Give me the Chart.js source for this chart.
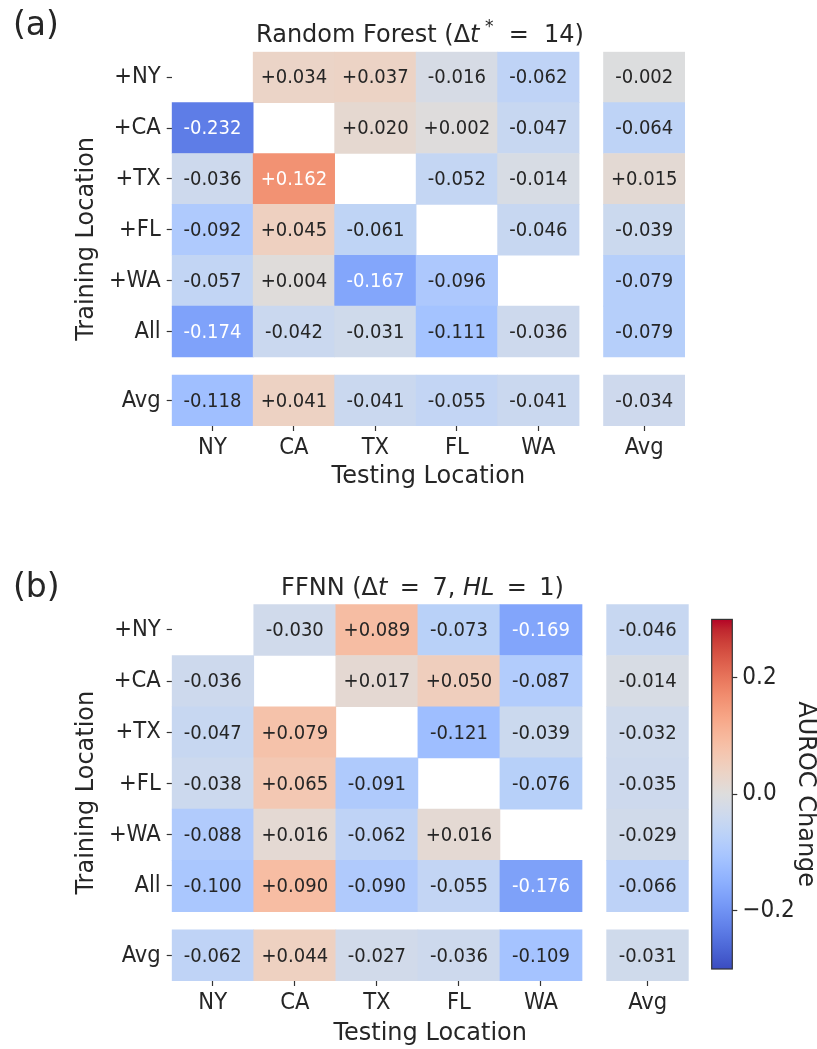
<!DOCTYPE html>
<html>
<head>
<meta charset="utf-8">
<script src="https://cdn.jsdelivr.net/npm/chart.js@4.4.1/dist/chart.umd.min.js"></script>
<style>
  body { margin: 0; background: #fff; }
  #wrap { position: relative; width: 817px; height: 1049px; }
  canvas { position: absolute; }
</style>
</head>
<body>
<div id="wrap">
  <canvas id="panel-a" width="817" height="500" style="left:0;top:0"></canvas>
  <canvas id="panel-b" width="817" height="549" style="left:0;top:500px"></canvas>
  <canvas id="cbar" width="127" height="400" style="left:690px;top:600px"></canvas>
</div>
<script>
const testLocs = ['NY', 'CA', 'TX', 'FL', 'WA'];
const trainLocs = ['+NY', '+CA', '+TX', '+FL', '+WA', 'All'];
const avgLabel = 'Avg';

// Random Forest (dt* = 14): AUROC change, rows = training, cols = testing
const rfChange = [
  [null, 0.034, 0.037, -0.016, -0.062],
  [-0.232, null, 0.020, 0.002, -0.047],
  [-0.036, 0.162, null, -0.052, -0.014],
  [-0.092, 0.045, -0.061, null, -0.046],
  [-0.057, 0.004, -0.167, -0.096, null],
  [-0.174, -0.042, -0.031, -0.111, -0.036]
];
const rfRowAvg = [-0.002, -0.064, 0.015, -0.039, -0.079, -0.079];
const rfColAvg = [-0.118, 0.041, -0.041, -0.055, -0.041];
const rfAllAvg = -0.034;

// FFNN (dt = 7, HL = 1)
const nnChange = [
  [null, -0.030, 0.089, -0.073, -0.169],
  [-0.036, null, 0.017, 0.050, -0.087],
  [-0.047, 0.079, null, -0.121, -0.039],
  [-0.038, 0.065, -0.091, null, -0.076],
  [-0.088, 0.016, -0.062, 0.016, null],
  [-0.100, 0.090, -0.090, -0.055, -0.176]
];
const nnRowAvg = [-0.046, -0.014, -0.032, -0.035, -0.029, -0.066];
const nnColAvg = [-0.062, 0.044, -0.027, -0.036, -0.109];
const nnAllAvg = -0.031;

const cbTicks = [-0.2, 0, 0.2];
const V_MIN = -0.3, V_MAX = 0.3;

const FONT_C = "'DejaVu Sans Condensed', 'DejaVu Sans', sans-serif";
const FONT_R = "'DejaVu Sans', sans-serif";
const INK = '#262626';
const COL_GAP = 0.3;   // space before the Avg column, in cell widths
const ROW_GAP = 0.355; // space before the Avg row, in cell heights

Chart.defaults.font.family = FONT_C;
Chart.defaults.color = INK;

// coolwarm colormap samples
const COOLWARM = [
  [59, 76, 192], [68, 90, 204], [77, 104, 215], [87, 117, 225], [98, 130, 234],
  [108, 142, 241], [119, 154, 247], [130, 165, 251], [141, 176, 254], [152, 185, 255],
  [163, 194, 255], [174, 201, 253], [184, 208, 249], [194, 213, 244], [204, 217, 238],
  [213, 219, 230], [221, 221, 221], [229, 216, 209], [236, 211, 197], [241, 204, 185],
  [245, 196, 173], [247, 187, 160], [247, 177, 148], [247, 166, 135], [244, 154, 123],
  [241, 141, 111], [236, 127, 99], [229, 112, 88], [222, 96, 77], [213, 80, 66],
  [203, 62, 56], [192, 40, 47], [180, 4, 38]
];

function coolwarm(v) {
  let t = (v - V_MIN) / (V_MAX - V_MIN);
  t = Math.min(1, Math.max(0, t)) * (COOLWARM.length - 1);
  const i = Math.min(Math.floor(t), COOLWARM.length - 2);
  const f = t - i;
  return COOLWARM[i].map((c, k) => c + (COOLWARM[i + 1][k] - c) * f);
}
const rgb = c => `rgb(${c.map(Math.round).join(',')})`;

function textColor(c) {
  const lin = c.map(x => {
    x /= 255;
    return x <= 0.03928 ? x / 12.92 : Math.pow((x + 0.055) / 1.055, 2.4);
  });
  const lum = 0.2126 * lin[0] + 0.7152 * lin[1] + 0.0722 * lin[2];
  return lum > 0.408 ? INK : '#ffffff';
}

const fmtCell = v => (v > 0 ? '+' : '') + v.toFixed(3);
const fmtBar = v => Math.abs(v) < 1e-9 ? '0.0' : (v < 0 ? '\u2212' : '') + Math.abs(v).toFixed(1);

const AVG_X = testLocs.length + COL_GAP;
const AVG_Y = trainLocs.length + ROW_GAP;
const colCenters = testLocs.map((_, c) => c + 0.5).concat([AVG_X + 0.5]);
const colLabels = testLocs.concat([avgLabel]);
const rowCenters = trainLocs.map((_, r) => r + 0.5).concat([AVG_Y + 0.5]);
const rowLabels = trainLocs.concat([avgLabel]);

function buildCells(values, rowAvg, colAvg, allAvg) {
  const cells = [];
  values.forEach((row, r) => row.forEach((v, c) => {
    if (v !== null) cells.push({ x: c + 0.5, y: [r, r + 1], v });
  }));
  rowAvg.forEach((v, r) => cells.push({ x: AVG_X + 0.5, y: [r, r + 1], v }));
  colAvg.forEach((v, c) => cells.push({ x: c + 0.5, y: [AVG_Y, AVG_Y + 1], v }));
  cells.push({ x: AVG_X + 0.5, y: [AVG_Y, AVG_Y + 1], v: allAvg });
  return cells;
}

// writes each cell's value in its middle
const cellLabels = {
  id: 'cellLabels',
  afterDatasetsDraw(chart) {
    const ctx = chart.ctx;
    const ds = chart.data.datasets[0];
    ctx.save();
    ctx.font = `20px ${FONT_C}`;
    ctx.textAlign = 'center';
    ctx.textBaseline = 'middle';
    chart.getDatasetMeta(0).data.forEach((bar, i) => {
      const { x, y, base } = bar.getProps(['x', 'y', 'base'], true);
      const v = ds.data[i].v;
      ctx.fillStyle = textColor(coolwarm(v));
      ctx.fillText(fmtCell(v), x, (y + base) / 2 + 1);
    });
    ctx.restore();
  }
};

function panelTitle(tag, segments, cx, baseline) {
  return {
    id: 'panelTitle',
    afterDraw(chart) {
      const ctx = chart.ctx;
      ctx.save();
      ctx.fillStyle = INK;
      ctx.textAlign = 'left';
      ctx.textBaseline = 'alphabetic';
      ctx.font = `33px ${FONT_R}`;
      ctx.fillText(tag.text, tag.x, tag.y);
      const fontFor = s => `${s.italic ? 'italic ' : ''}${s.sup ? 17 : 24}px ${FONT_R}`;
      let total = 0;
      segments.forEach(s => { ctx.font = fontFor(s); total += ctx.measureText(s.text).width; });
      let x = cx - total / 2;
      segments.forEach(s => {
        ctx.font = fontFor(s);
        ctx.fillText(s.text, x, baseline - (s.sup ? 10 : 0));
        x += ctx.measureText(s.text).width;
      });
      ctx.restore();
    }
  };
}

function heatmapPanel(id, cfg) {
  const canvas = document.getElementById(id);
  const W = canvas.width, H = canvas.height;
  const cells = buildCells(cfg.values, cfg.rowAvg, cfg.colAvg, cfg.allAvg);
  return new Chart(canvas, {
    type: 'bar',
    data: {
      datasets: [{
        data: cells,
        backgroundColor: cells.map(c => rgb(coolwarm(c.v))),
        borderWidth: 0,
        barPercentage: 1,
        categoryPercentage: 1
      }]
    },
    options: {
      responsive: false,
      animation: false,
      layout: { padding: { left: 0, top: cfg.area.top, right: W - cfg.area.right, bottom: 0 } },
      plugins: { legend: { display: false }, tooltip: { enabled: false } },
      scales: {
        x: {
          type: 'linear',
          offset: false,
          min: 0,
          max: AVG_X + 1,
          afterBuildTicks: s => { s.ticks = colCenters.map(value => ({ value })); },
          afterFit: s => { s.height = H - cfg.area.bottom; },
          ticks: {
            callback: (v, i) => colLabels[i],
            font: { size: 23.5 },
            color: INK,
            padding: 3,
            maxRotation: 0,
            autoSkip: false
          },
          grid: { offset: false, drawOnChartArea: false, tickLength: 5, tickWidth: 1.2, tickColor: '#333' },
          border: { display: false },
          title: {
            display: true,
            text: 'Testing Location',
            font: { family: FONT_R, size: 24, lineHeight: 1 },
            color: INK,
            padding: { top: 0, bottom: cfg.xTitlePad }
          }
        },
        y: {
          type: 'linear',
          reverse: true,
          min: 0,
          max: AVG_Y + 1,
          afterBuildTicks: s => { s.ticks = rowCenters.map(value => ({ value })); },
          afterFit: s => { s.width = cfg.area.left; },
          ticks: {
            callback: (v, i) => rowLabels[i],
            font: { size: 23.5 },
            color: INK,
            padding: 6,
            autoSkip: false
          },
          grid: { drawOnChartArea: false, tickLength: 5, tickWidth: 1.2, tickColor: '#333' },
          border: { display: false },
          title: {
            display: true,
            text: 'Training Location',
            font: { family: FONT_R, size: 24, lineHeight: 1 },
            color: INK,
            padding: { top: 75, bottom: 0 }
          }
        }
      }
    },
    plugins: [cellLabels, panelTitle(cfg.tag, cfg.title, cfg.titleX, cfg.titleY)]
  });
}

heatmapPanel('panel-a', {
  values: rfChange, rowAvg: rfRowAvg, colAvg: rfColAvg, allAvg: rfAllAvg,
  area: { left: 171.7, right: 685, top: 51.7, bottom: 426 },
  xTitlePad: 11.5,
  tag: { text: '(a)', x: 13, y: 35 },
  title: [
    { text: 'Random Forest (\u0394' },
    { text: 't', italic: true },
    { text: ' *', sup: true },
    { text: '  =  14)' }
  ],
  titleX: 420, titleY: 41.5
});

heatmapPanel('panel-b', {
  values: nnChange, rowAvg: nnRowAvg, colAvg: nnColAvg, allAvg: nnAllAvg,
  area: { left: 171.7, right: 688.7, top: 104.3, bottom: 481 },
  xTitlePad: 3.5,
  tag: { text: '(b)', x: 13, y: 97 },
  title: [
    { text: 'FFNN (\u0394' },
    { text: 't', italic: true },
    { text: ' \u2009=\u2009 7, ' },
    { text: 'HL', italic: true },
    { text: ' \u2009=\u2009 1)' }
  ],
  titleX: 422.5, titleY: 95
});

// colour bar for the shared AUROC scale
const cbFill = {
  id: 'cbFill',
  beforeDatasetsDraw(chart) {
    const ctx = chart.ctx;
    const { left, right } = chart.chartArea;
    const y = chart.scales.y;
    const yTop = y.getPixelForValue(V_MAX), yBot = y.getPixelForValue(V_MIN);
    const g = ctx.createLinearGradient(0, yBot, 0, yTop);
    COOLWARM.forEach((c, i) => g.addColorStop(i / (COOLWARM.length - 1), rgb(c)));
    ctx.save();
    ctx.fillStyle = g;
    ctx.fillRect(left, yTop, right - left, yBot - yTop);
    ctx.strokeStyle = '#333';
    ctx.lineWidth = 1.2;
    ctx.strokeRect(left, yTop, right - left, yBot - yTop);
    ctx.restore();
  }
};

const cbCanvas = document.getElementById('cbar');
new Chart(cbCanvas, {
  type: 'bar',
  data: { labels: [], datasets: [] },
  options: {
    responsive: false,
    animation: false,
    layout: { padding: { left: 21.7, top: 18.3, right: 0, bottom: cbCanvas.height - 369 } },
    plugins: { legend: { display: false }, tooltip: { enabled: false } },
    scales: {
      x: { display: false },
      y: {
        position: 'right',
        min: V_MIN,
        max: V_MAX,
        afterBuildTicks: s => { s.ticks = cbTicks.map(value => ({ value })); },
        afterFit: s => { s.width = cbCanvas.width - 42.3; },
        ticks: { callback: v => fmtBar(v), font: { size: 24 }, color: INK, padding: 5 },
        grid: { drawOnChartArea: false, tickLength: 5, tickWidth: 1.2, tickColor: '#333' },
        border: { display: false },
        title: {
          display: true,
          text: 'AUROC Change',
          font: { family: FONT_R, size: 24, lineHeight: 1 },
          color: INK,
          padding: { top: 0, bottom: 0 }
        }
      }
    }
  },
  plugins: [cbFill]
});
</script>
</body>
</html>
